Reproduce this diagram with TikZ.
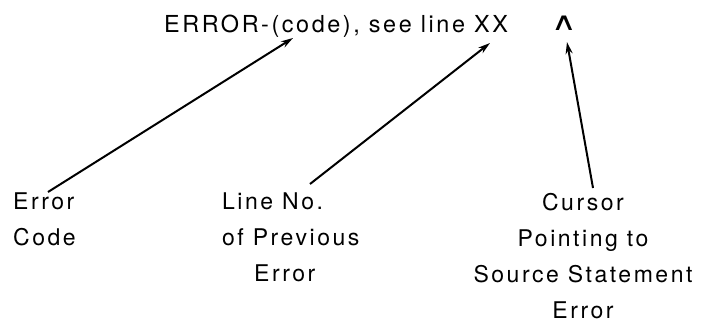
\documentclass[tikz,border=0pt]{standalone}
\usepackage{fontspec}
\setmainfont{TeX Gyre Heros}[LetterSpace=11]
\newfontfamily\symfont{DejaVu Sans}
\usetikzlibrary{arrows.meta}
\begin{document}
\begin{tikzpicture}[x=1pt,y=-1pt,
  lbl/.style={font=\fontsize{23}{36}\selectfont, inner sep=0pt, align=center},
  arr/.style={line width=2pt, -{Stealth[length=12pt,width=7pt]}}]
\useasboundingbox (0,0) rectangle (701,324);

\node [lbl, anchor=west] (msg) at (164,26) {\fontsize{23.4}{36}\selectfont ERROR-(code), see line XX};
\node [inner sep=0pt, xscale=1.4] (caret) at (564,23) {\symfont\fontsize{25}{25}\selectfont ∧};

\node [lbl, align=left, anchor=north west] (errcode) at (13,193) {Error\\Code};
\node [lbl, align=left, anchor=north west] (lineno) at (222,193) {Line No.\\of Previous\\\hspace*{32pt}Error};
\node [lbl, anchor=north] (cursor) at (583,193) {Cursor\\Pointing to\\Source Statement\\Error};

\coordinate (codetip) at (293,38) ;
\coordinate (xxtip) at (490,43) ;
\coordinate (carettip) at (567,42) ;

\draw [arr] (48,192) -- (codetip) ;
\draw [arr] (310,184) -- (xxtip) ;
\draw [arr] (593,188) -- (carettip) ;

\end{tikzpicture}
\end{document}
